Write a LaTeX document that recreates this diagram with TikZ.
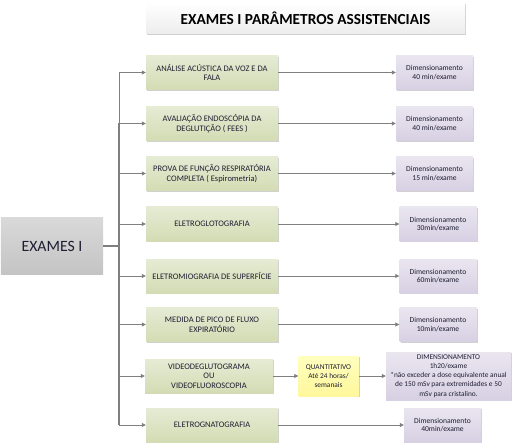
\documentclass[tikz,border=0pt]{standalone}
\usepackage{fontspec}
\setmainfont{Carlito}
\usetikzlibrary{arrows.meta,shadows}
\definecolor{linegray}{HTML}{7F7F7F}
\definecolor{greentop}{HTML}{E6EBD4}
\definecolor{greenbot}{HTML}{D3DCB4}
\definecolor{lilactop}{HTML}{EAE6F0}
\definecolor{lilacbot}{HTML}{D7D0E3}
\definecolor{yellowtop}{HTML}{FFFFBE}
\definecolor{yellowbot}{HTML}{FFF79C}
\definecolor{rootgray}{HTML}{C4C4C4}
\definecolor{inkcolor}{HTML}{1E1E32}
\newcommand{\linecolor}{linegray}
\newcommand{\tip}{-{Triangle[length=4bp,width=4bp]}}
\tikzset{
  boxshadow/.style={drop shadow={shadow xshift=1.2bp, shadow yshift=-1.2bp, opacity=0.3, fill=black!60}},
  titlebox/.style={boxshadow, top color=white, bottom color=black!7, minimum width=319bp, minimum height=31bp, inner sep=0pt, font=\fontsize{15.4}{18}\selectfont\bfseries, text=black},
  rootbox/.style={top color=black!15, bottom color=rootgray, minimum width=102bp, minimum height=56bp, inner sep=0pt, font=\fontsize{15.8}{18}\selectfont, text=inkcolor},
  exambox/.style={boxshadow, top color=greentop, bottom color=greenbot, minimum width=132bp, minimum height=34bp, inner sep=1bp, align=center, font=\fontsize{8.5}{9.7}\selectfont, text=inkcolor},
  timebox/.style={boxshadow, top color=lilactop, bottom color=lilacbot, minimum width=77bp, minimum height=34bp, inner sep=1bp, align=center, font=\fontsize{7.6}{8.8}\selectfont, text=inkcolor},
  countbox/.style={boxshadow, top color=yellowtop, bottom color=yellowbot, minimum width=60bp, minimum height=40bp, inner sep=1bp, align=center, font=\fontsize{7.4}{9}\selectfont, text=inkcolor},
  branch/.style={draw=\linecolor, line width=0.8bp, \tip},
}

\begin{document}
\begin{tikzpicture}[x=1bp, y=-1bp]
\useasboundingbox (0,0) rectangle (514,446);
\node[titlebox] (title) at (305.5, 18) {EXAMES I PARÂMETROS ASSISTENCIAIS};
\node[rootbox] (root) at (52, 246) {EXAMES I};
%exams
\node[exambox] (g1) at (212, 72.5) {ANÁLISE ACÚSTICA DA VOZ E DA\\FALA};
\node[exambox] (g2) at (212, 123.5) {AVALIAÇÃO ENDOSCÓPIA DA\\DEGLUTIÇÃO ( FEES )};
\node[exambox] (g3) at (212, 173.5) {PROVA DE FUNÇÃO RESPIRATÓRIA\\COMPLETA ( Espirometria)};
\node[exambox] (g4) at (212, 224) {ELETROGLOTOGRAFIA};
\node[exambox] (g5) at (212, 276) {ELETROMIOGRAFIA DE SUPERFÍCIE};
\node[exambox] (g6) at (212, 324.5) {MEDIDA DE PICO DE FLUXO\\EXPIRATÓRIO};
\node[exambox, minimum width=128bp] (g7) at (209, 376) {VIDEODEGLUTOGRAMA\\OU\\VIDEOFLUOROSCOPIA};
\node[exambox] (g8) at (212, 425) {ELETROGNATOGRAFIA};
%times
\node[timebox] (d1) at (434.5, 72.5) {Dimensionamento\\40 min/exame};
\node[timebox] (d2) at (434.5, 123.5) {Dimensionamento\\40 min/exame};
\node[timebox] (d3) at (434.5, 173.5) {Dimensionamento\\15 min/exame};
\node[timebox] (d4) at (438, 224) {Dimensionamento\\30min/exame};
\node[timebox] (d5) at (438, 276) {Dimensionamento\\60min/exame};
\node[timebox] (d6) at (438, 324.5) {Dimensionamento\\10min/exame};
\node[countbox] (q7) at (328.5, 376) {QUANTITATIVO\\Até 24 horas/\\semanais};
\node[timebox, minimum width=125bp, minimum height=48bp, font=\fontsize{7.4}{9.2}\selectfont] (d7) at (448.5, 376) {DIMENSIONAMENTO\\1h20/exame\\*não exceder a dose equivalente anual\\de 150 mSv para extremidades e 50\\mSv para cristalino.};
\node[timebox] (d8) at (442.5, 425) {Dimensionamento\\40min/exame};
%trunk
\coordinate (top) at (119, 72.5);
\coordinate (bottom) at (119, 425);
\draw[\linecolor, line width=0.8bp] (top) -- (g2.west -| top);
\draw[\linecolor, line width=1.6bp] (g2.west -| top) -- (bottom);
\draw[\linecolor, line width=1.6bp] (root.east) -- (root.east -| top);
\draw[branch] (top) -- (g1.west);
\draw[branch] (g2.west -| top) -- (g2.west);
\draw[branch] (g3.west -| top) -- (g3.west);
\draw[branch] (g4.west -| top) -- (g4.west);
\draw[branch] (g5.west -| top) -- (g5.west);
\draw[branch] (g6.west -| top) -- (g6.west);
\draw[branch] (g7.west -| top) -- (g7.west);
\draw[branch] (bottom) -- (g8.west);
%durations
\draw[branch] (g1.east) -- (d1.west);
\draw[branch, line width=1.4bp] (g2.east) -- (d2.west);
\draw[branch] (g3.east) -- (d3.west);
\draw[branch] (g4.east) -- (d4.west);
\draw[branch] (g5.east) -- (d5.west);
\draw[branch] (g6.east) -- (d6.west);
\draw[branch] (g7.east) -- (q7.west);
\draw[branch] (q7.east) -- (d7.west);
\draw[branch] (g8.east) -- (d8.west);
\end{tikzpicture}
\end{document}
